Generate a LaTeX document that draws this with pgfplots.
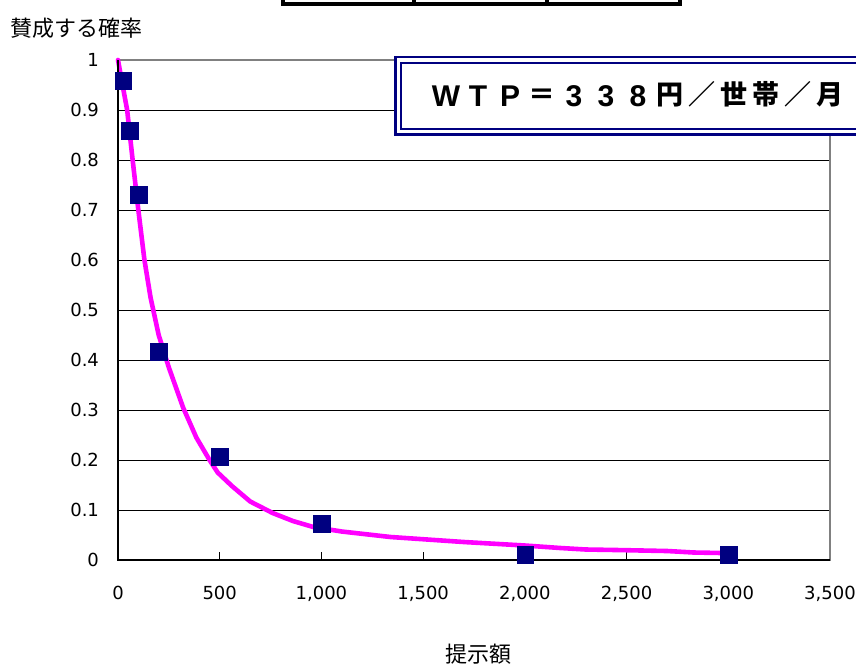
\documentclass[border=0pt]{standalone}
\usepackage{pgfplots}
\pgfplotsset{compat=1.18}
\usepackage{fontspec}
\setmainfont{DejaVu Sans}
\newfontfamily\jp{Noto Sans CJK JP}
\newfontfamily\lat{Liberation Sans}
\definecolor{navy}{RGB}{0,0,128}
\definecolor{mag}{RGB}{255,0,255}
% one cell of the WTP line: latin glyphs and CJK glyphs
\newcommand\wl[1]{\makebox[16pt]{\lat\bfseries\fontsize{15}{16}\selectfont #1}}
\newcommand\wj[1]{\makebox[16pt]{\jp\bfseries\fontsize{13.5}{16}\selectfont\raisebox{0.6pt}{#1}}}
\begin{document}
\begin{tikzpicture}
\fill[white] (0,0) rectangle (428pt,-333pt);
\begin{axis}[
    at={(59pt,-280pt)}, anchor=south west,
    scale only axis,
    width=356pt, height=250pt,
    xmin=0, xmax=3500, ymin=0, ymax=1,
    xtick={0,500,1000,1500,2000,2500,3000,3500},
    ytick={0,0.1,0.2,0.3,0.4,0.5,0.6,0.7,0.8,0.9,1},
    scaled ticks=false,
    /pgf/number format/1000 sep={,},
    /pgf/number format/assume math mode=true,
    tick label style={font=\fontsize{9}{10}\selectfont},
    xticklabel style={yshift=-9.5pt},
    yticklabel style={xshift=-6pt},
    tick align=inside,
    tick pos=left,
    major tick length=4pt,
    tick style={black, line width=0.5pt},
    ymajorgrids,
    grid style={black, line width=0.5pt},
    axis line style={draw=gray, line width=0.8pt},
    clip=false,
]
% fitted curve
\addplot[mag, line width=2.3pt, line join=round, line cap=round] coordinates {
    (0,1.0) (20,0.955) (45,0.9) (72,0.8) (100,0.70) (130,0.60) (160,0.525)
    (200,0.45) (250,0.385) (320,0.305) (385,0.245) (450,0.20) (490,0.175)
    (560,0.148) (650,0.117) (760,0.094) (860,0.078) (960,0.066) (1100,0.057)
    (1340,0.046) (1700,0.036) (2000,0.029) (2175,0.024) (2300,0.021)
    (2450,0.020) (2700,0.018) (2830,0.015) (2970,0.014)
};
% observed shares
\addplot[only marks, mark=square*, mark size=4.2pt, mark options={fill=navy, draw=navy}] coordinates {
    (27,0.958) (57,0.858) (101,0.73) (202,0.416) (502,0.206)
    (1003,0.072) (2003,0.010) (3003,0.010)
};
\draw[black, line width=0.8pt] (rel axis cs:0,1) -- (rel axis cs:0,0) -- (rel axis cs:1,0);
\end{axis}
% axis titles
\node[anchor=west, inner sep=0pt, font=\jp\fontsize{11}{12}\selectfont] at (5pt,-14pt) {賛成する確率};
\node[inner sep=0pt, font=\jp\fontsize{11}{12}\selectfont] at (239pt,-327pt) {提示額};
% WTP box
\draw[navy, line width=1.1pt, double=white, double distance=1.8pt, fill=white]
    (199.2pt,-30pt) rectangle (470pt,-65.8pt);
\node[anchor=base, inner sep=0pt] at (319pt,-53pt)
    {\wl{W}\wl{T}\wl{P}\wj{＝}\wl{3}\wl{3}\wl{8}\wj{円}\wj{／}\wj{世}\wj{帯}\wj{／}\wj{月}};
% cut-off table at the top
\draw[black, line width=2pt] (141.5pt,6pt) rectangle (340pt,-2pt);
\draw[black, line width=2pt] (207pt,6pt) -- (207pt,-2pt) (273.5pt,6pt) -- (273.5pt,-2pt);
\pgfresetboundingbox
\useasboundingbox (0,0) rectangle (428pt,-333pt);
\end{tikzpicture}
\end{document}
